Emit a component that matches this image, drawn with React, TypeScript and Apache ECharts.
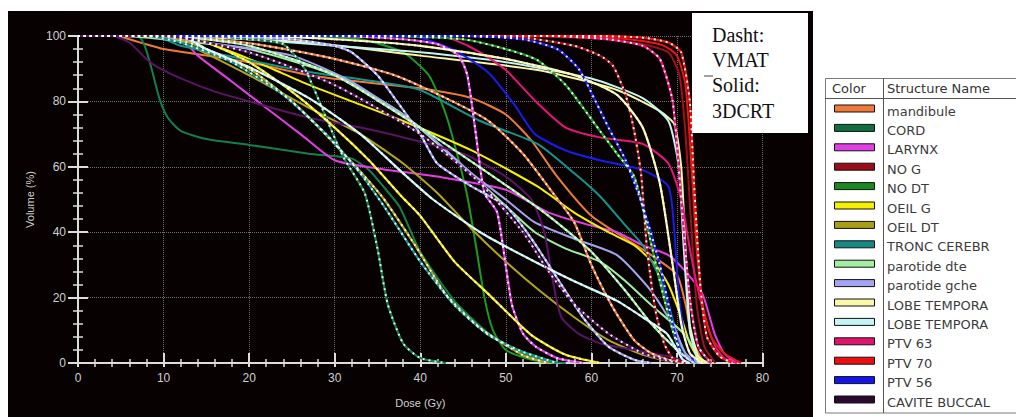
import React, { useEffect, useRef } from "react";
import * as echarts from "echarts";

type Pt = [number, number];

// ---- Data: cumulative DVH curves [dose (Gy), volume (%)] ----
const mandibule3D: Pt[] = [[0,100],[4.5,100],[7,98.2],[10,96],[15,94],[20,92],[27,88],[33,86],[40,84],[46,81],[50,76],[53,68],[56,57],[60,45],[64,38],[67,33],[70,27],[71,18],[71.8,7],[73,1],[74,0]];
const mandibuleVMAT: Pt[] = [[0,100],[10,100],[16,99],[22,97],[30,93],[37,88],[43,81],[48,74],[52,64],[55.5,52],[58,43],[60,30],[62.5,17],[65,7],[67,3],[69,1],[71,0]];
const cord3D: Pt[] = [[0,100],[7,100],[7.8,97],[8.6,90],[9.5,81],[10.5,75],[12,71],[15,68.5],[20,66.7],[27,64],[32,62.5],[34,59],[36,53],[37.6,47.7],[40,34],[44,19],[48,9],[52,3],[55,0.5],[57,0]];
const cordVMAT: Pt[] = [[0,100],[14,100],[20,99],[24,97.5],[26.5,90],[29,75],[31,63],[33.5,52],[35,35],[36.2,18],[38,6],[40,1.5],[43,0]];
const larynx3D: Pt[] = [[0,100],[10,100],[12.5,98],[14,94],[18,86],[22,78],[26,70],[30,62],[35,59.5],[42,57],[50,53],[55,46],[60,42],[63,40],[66,36],[69,33],[71,28],[73,21],[74.4,9],[75.5,3],[77,0]];
const larynxVMAT: Pt[] = [[0,100],[30,100],[38,99],[42,97.5],[44.5,94],[45.5,88],[46.5,70],[47.5,52],[49,46],[50.7,18],[52,9],[53.5,5],[56,1.5],[59,0]];
const noG3D: Pt[] = [[0,100],[50,100],[60,99.3],[66,97.5],[69,95],[70.3,88],[71,70],[71.6,45],[72.3,18],[73.2,5],[74.5,0]];
const noGVMAT: Pt[] = [[0,100],[40,100],[52,99.5],[58,97],[61,94],[62.5,91],[64,82],[65,71],[65.8,58],[66.5,35],[67.5,16],[68.5,6],[69.5,1.5],[71,0]];
const noDt3D: Pt[] = [[0,100],[25,100],[33,99],[38,95],[41,88],[43,76],[44.5,62],[45.5,51],[46.5,36],[47.5,20],[48.5,10],[50,4],[53,1],[56,0]];
const noDtVMAT: Pt[] = [[0,100],[35,100],[45,99],[50,96],[53.7,92.6],[57,85],[61,71],[63,64],[65,57],[66.5,42],[68,25],[69.5,10],[70.5,3],[72,0]];
const oeilG3D: Pt[] = [[0,100],[12,100],[15,98],[20,93],[23,89.6],[26.5,85.6],[32,80],[38,74],[46,65],[53.7,54],[58,46],[62,40],[65,36],[67.5,30],[69,24],[70.5,14],[71.5,6],[72.5,1.5],[73.5,0]];
const oeilGVMAT: Pt[] = [[0,100],[10,100],[15,98],[20,92],[25,83],[30,72],[34,62],[37.8,51],[40,45],[44,31],[48,21],[53,8.5],[57,2.5],[61,0]];
const oeilDt3D: Pt[] = [[0,100],[9,100],[13,97],[20,88],[27,78],[33,70],[38,61],[42,52],[46,41],[50,31],[54,22],[58,14],[62,7],[66,2.5],[70,0]];
const oeilDtVMAT: Pt[] = [[0,100],[10,100],[14,97],[20,90],[25,80],[30,67],[35.5,51],[39.4,36],[43,21],[47,10.7],[52,2.4],[55,0]];
const tronc3D: Pt[] = [[0,100],[9,100],[12,97],[20,92.6],[27,89],[35,86],[40,83.5],[47,74],[53.7,67],[58,58],[61,51],[64,42],[66,36],[68,26],[69,18],[70.3,6],[71.5,1],[72.5,0]];
const troncVMAT: Pt[] = [[0,100],[8,100],[12,98],[18,92],[24,82],[29,70],[33,58],[36,47],[40,31],[44,17.7],[48,8.5],[52,3.4],[56,0]];
const parDte3D: Pt[] = [[0,100],[5,100],[10,99],[20,96],[30,88],[38,76],[45,60],[50,48],[53.4,40],[57,35],[61,31],[64,25],[67,17.7],[71,8.5],[72.5,2],[73.5,0]];
const parDteVMAT: Pt[] = [[0,100],[10,100],[20,97],[30,88],[40,72],[48,58],[55,45],[60,34],[64,22],[67,12],[70,4],[72,0]];
const parGche3D: Pt[] = [[0,100],[8,100],[15,98],[25,94],[32,86],[40,72],[46,58],[50,50],[53.4,43],[58,38],[63,33],[67,22],[69.7,10.7],[71,3],[72.5,0]];
const parGcheVMAT: Pt[] = [[0,100],[15,100],[25,99],[30,97],[32,95],[35,88],[37,81],[40,70],[42,61],[46,54],[50,48],[53,38],[56,26],[59,14],[62,5],[65,1],[67,0]];
const lobeG3D: Pt[] = [[0,100],[10,100],[20,99],[27,98],[40,94],[53.7,89.6],[63,83.5],[68,77],[69.7,73],[70.5,60],[71,35],[71.5,12],[72.5,2],[73.5,0]];
const lobeGVMAT: Pt[] = [[0,100],[20,100],[30,99],[40,97],[50,93],[58,88],[63,82],[66,72],[68,55],[69.5,30],[70.5,12],[71.5,3],[73,0]];
const lobeD3D: Pt[] = [[0,100],[12,100],[20,99],[30,97],[40,95],[50,92],[60,87],[66,81],[69,74],[70.2,60],[70.8,35],[71.5,10],[72.5,0]];
const lobeDVMAT: Pt[] = [[0,100],[12,100],[15,96],[20,90.5],[27,81],[33,70],[38,58],[41.5,50],[47,40],[53,31.5],[58,25],[63,19],[66,14],[68.8,9],[70,4],[70.7,1],[71.5,0]];
const ptv63_3D: Pt[] = [[0,100],[42,100],[44,98.8],[47,95],[50,89.6],[53.5,80],[57,72],[61,69],[66,67],[69,61],[70.5,50],[71.5,35],[72.5,22],[73.5,12],[74.5,5],[75.5,1.5],[77,0]];
const ptv63VMAT: Pt[] = [[0,100],[55,100],[62,99],[66,97],[68,93],[69.5,80],[70.5,50],[71.5,20],[72.5,5],[74,0]];
const ptv70_3D: Pt[] = [[0,100],[55,100],[62,99.5],[66,98.5],[68.5,97],[70,94],[71,85],[71.7,60],[72.3,35],[73,18],[74,8],[75.5,3],[77.5,0]];
const ptv70VMAT: Pt[] = [[0,100],[60,100],[66,99.5],[69,98],[70.5,95],[71.5,80],[72,55],[72.7,25],[73.5,8],[75,2],[76.5,0]];
const ptv56_3D: Pt[] = [[0,100],[38,100],[40,99.5],[44,95.7],[48,88.7],[51,79],[53.4,70],[57,65],[61,62],[66,59],[69,54],[69.7,40],[70.2,21],[71,7],[72,0]];
const ptv56VMAT: Pt[] = [[0,100],[45,100],[52,99],[56,96],[58.5,90],[60.5,80],[62,72],[64,62],[66,48],[68,30],[69.5,12],[70.5,3],[72,0]];
const cavite3D: Pt[] = [[0,100],[4,100],[6,98],[8,93],[9.3,90.5],[12.5,86.5],[16,83],[20,80],[27,75],[33,72],[38,69],[45,64],[50,57],[53,50],[54.5,40],[55.5,25],[56.5,14],[58.5,9],[61,6],[65,4],[69,2],[72,0]];
const caviteVMAT: Pt[] = [[0,100],[10,100],[20,95],[30,85],[40,70],[47,55],[52,40],[55,28],[58,18],[62,9],[66,3],[70,0]];

// Table labels (as visible, clipped by the picture edge)
const structureNames = ["mandibule","CORD","LARYNX","NO G","NO DT","OEIL G","OEIL DT","TRONC CEREBR","parotide dte","parotide gche","LOBE TEMPORA","LOBE TEMPORA","PTV 63","PTV 70","PTV 56","CAVITE BUCCAL"];
const lineColors = ["#f07a3c","#13804a","#e23ee6","#a3101a","#1c9a22","#f6f000","#b0a418","#14948e","#a4eea4","#a4a4f2","#f8f8a8","#c4f4f4","#e8147c","#f01414","#1a1af0","#5a1466"];
const swatchColors = ["#f07a3c","#0f6e3e","#e23ee6","#9a0c16","#1a8a20","#f6f000","#a89e14","#148a86","#a4eea4","#a4a4f2","#f8f8a8","#c4f4f4","#e0146e","#ee1010","#1414ee","#2c0830"];
const curves3D: Pt[][] = [mandibule3D,cord3D,larynx3D,noG3D,noDt3D,oeilG3D,oeilDt3D,tronc3D,parDte3D,parGche3D,lobeG3D,lobeD3D,ptv63_3D,ptv70_3D,ptv56_3D,cavite3D];
const curvesVMAT: Pt[][] = [mandibuleVMAT,cordVMAT,larynxVMAT,noGVMAT,noDtVMAT,oeilGVMAT,oeilDtVMAT,troncVMAT,parDteVMAT,parGcheVMAT,lobeGVMAT,lobeDVMAT,ptv63VMAT,ptv70VMAT,ptv56VMAT,caviteVMAT];

const xTicks = { min: 0, max: 80, interval: 10 };
const yTicks = { min: 0, max: 100, interval: 20 };
const noteLines = ["Dasht:", "VMAT", "Solid:", "3DCRT"];
const tableHeader = ["Color", "Structure Name"];

export default function App() {
  const ref = useRef<HTMLDivElement>(null);
  useEffect(() => {
    if (!ref.current) return;
    const chart = echarts.init(ref.current, undefined, { renderer: "svg" });
    const axisGray = "#dcdcdc";
    const series: any[] = [];
    const SMOOTH = 0.2;
    curves3D.forEach((d, i) => {
      series.push({
        type: "line", name: structureNames[i] + " 3DCRT", data: d, symbol: "none",
        smooth: SMOOTH, lineStyle: { color: lineColors[i], width: 2 }, z: 3,
      });
    });
    curvesVMAT.forEach((d, i) => {
      series.push({
        type: "line", name: structureNames[i] + " VMAT", data: d, symbol: "none",
        smooth: SMOOTH, lineStyle: { color: lineColors[i], width: 2.2 }, z: 4,
      });
      series.push({
        type: "line", name: structureNames[i] + " VMAT dots", data: d, symbol: "none",
        smooth: SMOOTH, lineStyle: { color: "#ffffff", width: 2, type: [2, 4], opacity: 0.9 }, z: 5,
      });
    });

    const graphics: any[] = [
      { type: "rect", z: -1, silent: true, shape: { x: 8, y: 11, width: 805, height: 406 }, style: { fill: "#070101" } },
      // note box
      { type: "rect", z: 100, shape: { x: 692, y: 13, width: 116, height: 120 }, style: { fill: "#ffffff" } },
      { type: "line", z: 101, shape: { x1: 704, y1: 76, x2: 713, y2: 76 }, style: { stroke: "#444", lineWidth: 1 } },
      // table
      { type: "rect", z: 100, shape: { x: 825.5, y: 78.5, width: 200, height: 334.5 }, style: { fill: "#ffffff", stroke: "#7a7a7a", lineWidth: 1 } },
      { type: "line", z: 101, shape: { x1: 825, y1: 98.5, x2: 1016, y2: 98.5 }, style: { stroke: "#555", lineWidth: 1 } },
      { type: "line", z: 101, shape: { x1: 883.5, y1: 78, x2: 883.5, y2: 413 }, style: { stroke: "#555", lineWidth: 1 } },
    ];
    noteLines.forEach((t, i) => {
      graphics.push({
        type: "text", z: 102, x: 712, y: 35 + i * 25.2,
        style: { text: t, fill: "#111111", fontSize: 20, fontFamily: "Liberation Serif", verticalAlign: "middle", align: "left" },
      });
    });
    graphics.push({ type: "text", z: 102, x: 832, y: 88.5, style: { text: tableHeader[0], fill: "#333", fontSize: 13, fontFamily: "DejaVu Sans", verticalAlign: "middle" } });
    graphics.push({ type: "text", z: 102, x: 887, y: 88.5, style: { text: tableHeader[1], fill: "#333", fontSize: 13, fontFamily: "DejaVu Sans", verticalAlign: "middle" } });
    structureNames.forEach((n, i) => {
      const yc = 109.5 + i * 19.4;
      graphics.push({ type: "rect", z: 102, shape: { x: 834.5, y: yc - 4.5, width: 40, height: 7 }, style: { fill: swatchColors[i], stroke: "#111", lineWidth: 1 } });
      graphics.push({ type: "text", z: 102, x: 887, y: yc + 1.5, style: { text: n, fill: "#3c3c3c", fontSize: 13, fontFamily: "DejaVu Sans", verticalAlign: "middle" } });
    });

    const labelStyle = { color: "#cfcfcf", fontSize: 12, fontFamily: "Liberation Sans" };
    chart.setOption({
      animation: false,
      backgroundColor: "#ffffff",
      grid: { left: 78, right: 253.5, top: 36, bottom: 54, containLabel: false },
      xAxis: [
        {
          type: "value", ...xTicks, position: "bottom",
          name: "Dose (Gy)", nameLocation: "middle", nameGap: 34,
          nameTextStyle: { color: "#cfcfcf", fontSize: 11, fontFamily: "Liberation Sans" },
          axisLine: { show: true, lineStyle: { color: axisGray, width: 2 } },
          axisTick: { show: true, length: 4, lineStyle: { color: axisGray, width: 2 } },
          minorTick: { show: true, splitNumber: 5, length: 4, lineStyle: { color: axisGray, width: 1.5 } },
          axisLabel: { ...labelStyle, margin: 9 },
          splitLine: { show: true, lineStyle: { color: "#6e6e6e", type: "dotted", width: 1 } },
        },
        {
          type: "value", ...xTicks, position: "bottom",
          axisLine: { show: false },
          axisTick: { show: true, inside: true, length: 10, lineStyle: { color: axisGray, width: 2 } },
          minorTick: { show: true, splitNumber: 5, length: 4, lineStyle: { color: axisGray, width: 1.5 } },
          axisLabel: { show: false },
          splitLine: { show: false },
        },
      ],
      yAxis: [
        {
          type: "value", ...yTicks, position: "left",
          name: "Volume (%)", nameLocation: "middle", nameGap: 43,
          nameTextStyle: { color: "#cfcfcf", fontSize: 11, fontFamily: "Liberation Sans" },
          axisLine: { show: true, lineStyle: { color: axisGray, width: 2 } },
          axisTick: { show: true, length: 10, lineStyle: { color: axisGray, width: 2 } },
          minorTick: { show: true, splitNumber: 5, length: 5, lineStyle: { color: axisGray, width: 1.5 } },
          axisLabel: { ...labelStyle, margin: 12 },
          splitLine: { show: true, lineStyle: { color: "#6e6e6e", type: "dotted", width: 1 } },
        },
        {
          type: "value", ...yTicks, position: "left",
          axisLine: { show: false },
          axisTick: { show: true, inside: true, length: 10, lineStyle: { color: axisGray, width: 2 } },
          minorTick: { show: true, splitNumber: 5, length: 5, lineStyle: { color: axisGray, width: 1.5 } },
          axisLabel: { show: false },
          splitLine: { show: false },
        },
      ],
      series,
      graphic: { elements: graphics },
    });
    return () => chart.dispose();
  }, []);
  return <div ref={ref} style={{ position: "fixed", left: 0, top: 0, width: 1016, height: 417 }} />;
}
